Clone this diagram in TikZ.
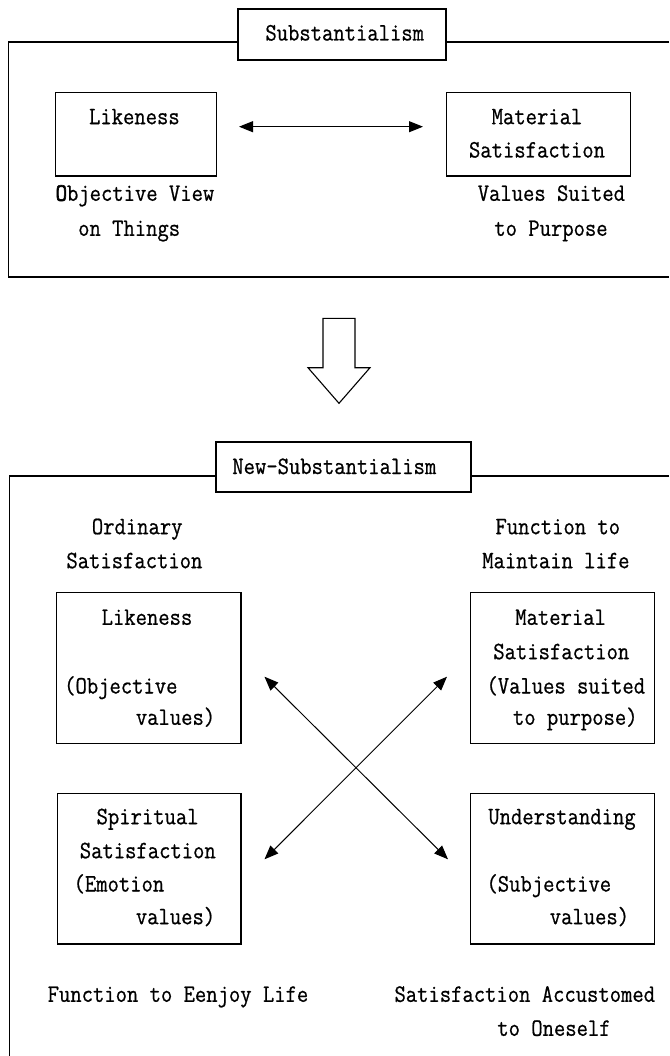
\documentclass[tikz,border=0pt]{standalone}
\usepackage{fontspec}
\setmonofont{Latin Modern Mono}[FakeStretch=0.88, FakeBold=0.7]
\newfontfamily\boldtt{Latin Modern Mono}[FakeStretch=0.88, FakeBold=2.6]
\usetikzlibrary{arrows.meta}
\begin{document}
\begin{tikzpicture}[x=1pt,y=-1pt,
  txt/.style={font=\ttfamily\fontsize{25}{33}\selectfont, inner sep=0pt, anchor=base},
  txtl/.style={txt, anchor=base west},
  txtr/.style={txt, anchor=base east},
  boxc/.style={draw, line width=1.1pt, inner sep=0pt},
  titlebox/.style={draw, line width=2.2pt, fill=white, inner sep=0pt},
  frame/.style={line width=1.8pt},
  dbl/.style={line width=1pt, {Triangle[length=14pt,width=11pt]}-{Triangle[length=14pt,width=11pt]}}]
\useasboundingbox (0,0) rectangle (669,1056);
% ---------- top section ----------
\draw[frame] (669,42.3) -- (8.5,42.3) -- (8.5,276.7) -- (669,276.7);
\node[titlebox, minimum width=208pt, minimum height=51pt] (t1) at (342,34.5) {};
\node[txt] (t1txt) at (344.7,40.5) {Substantialism};
\node[boxc, minimum width=160.8pt, minimum height=83.3pt] (like1) at (135.9,134.35) {};
\node[boxc, minimum width=184.3pt, minimum height=83.3pt] (mat1) at (538.35,134.35) {};
\node[txt] (like1a) at (134.4,124.2) {Likeness};
\node[txt] (mat1a) at (537,124.2) {Material};
\node[txt] (mat1b) at (537,157.5) {Satisfaction};
\coordinate (a0s) at (239,126.7);
\coordinate (a0e) at (423,126.7);
\draw[dbl] (a0s) -- (a0e);
\node[txtl] (ov1) at (55.5,200.8) {{\boldtt O}bjective View};
\node[txtl] (ov2) at (78,235.8) {on Things};
\node[txt] (vs1) at (551.4,200.8) {Values Suited};
\node[txt] (vs2) at (551,235.8) {to Purpose};
% ---------- big arrow ----------
\draw[line width=1.1pt, line join=miter] (323,318.3) -- (355,318.3) -- (355,367.7) -- (370,367.7)
  -- (339,403.3) -- (308,367.7) -- (323,367.7) -- cycle;
% ---------- bottom section ----------
\draw[frame] (669,476) -- (9.5,476) -- (9.5,1060);
\node[titlebox, minimum width=254.3pt, minimum height=50pt] (t2) at (343.45,467.3) {};
\node[txt] (t2txt) at (334.3,474) {New-Substantialism};
\node[txt] (ord1) at (137.2,534.2) {Ordinary};
\node[txt] (ord2) at (134.4,568.2) {Satisfaction};
\node[txt] (fm1) at (557.8,534.2) {Function to};
\node[txt] (fm2) at (555.9,568.2) {Maintain life};
\node[boxc, minimum width=184.3pt, minimum height=151pt] (like2) at (148.85,667.8) {};
\node[boxc, minimum width=184.3pt, minimum height=151pt] (mat2) at (562.75,667.8) {};
\node[boxc, minimum width=183.4pt, minimum height=150.7pt] (spir) at (149.3,868.65) {};
\node[boxc, minimum width=184.3pt, minimum height=150.7pt] (und) at (562.75,868.65) {};
\node[txt] (like2a) at (147,624.8) {Likeness};
\node[txtl] (like2b) at (64,693.5) {(Objective};
\node[txtr] (like2c) at (215.4,724.8) {values)};
\node[txt] (mat2a) at (560.6,624.8) {Material};
\node[txt] (mat2b) at (561.3,659.2) {Satisfaction};
\node[txtl] (mat2c) at (486.3,693.5) {(Values suited};
\node[txtr] (mat2d) at (637.8,724.8) {to purpose)};
\node[txt] (spa) at (147.6,824.2) {Spiritual};
\node[txt] (spb) at (147.8,858.2) {Satisfaction};
\node[txtl] (spc) at (73.4,891.5) {(Emotion};
\node[txtr] (spd) at (215.4,924.2) {values)};
\node[txt] (una) at (562,824.2) {Understanding};
\node[txtl] (unb) at (486.3,891.5) {(Subjective};
\node[txtr] (unc) at (629.3,924.2) {values)};
\coordinate (x1s) at (264.5,676.7);
\coordinate (x1e) at (448,859.3);
\coordinate (x2s) at (447,676.7);
\coordinate (x2e) at (264.5,859.3);
\draw[dbl] (x1s) -- (x1e);
\draw[dbl] (x2s) -- (x2e);
\node[txt] (fe) at (178,1001.8) {Function to Eenjoy Life};
\node[txt] (sa1) at (524.8,1001.8) {Satisfaction Accustomed};
\node[txt] (sa2) at (554,1035.8) {to Oneself};
\end{tikzpicture}
\end{document}
